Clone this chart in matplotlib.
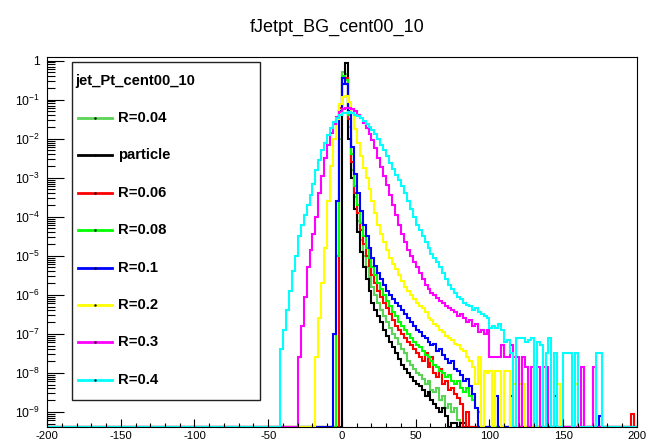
import numpy as np
import matplotlib
matplotlib.use("Agg")
import matplotlib.pyplot as plt
from matplotlib.lines import Line2D
from matplotlib.patches import Rectangle
from matplotlib.ticker import FixedLocator, FixedFormatter, MultipleLocator, LogLocator, NullFormatter

plt.rcParams['font.family'] = ['Liberation Sans', 'DejaVu Sans']
plt.rcParams['mathtext.fontset'] = 'custom'
plt.rcParams['mathtext.rm'] = 'Liberation Sans'
plt.rcParams['mathtext.it'] = 'Liberation Sans:italic'
plt.rcParams['mathtext.bf'] = 'Liberation Sans:bold'
plt.rcParams['axes.unicode_minus'] = False

# histogram binning (bin width 2)
bw = 2
edges = np.arange(-200, 201, bw)
ymin = 10 ** -9.39
ymax = 10 ** 0.095

title = "fJetpt_BG_cent00_10"
legend_title = "jet_Pt_cent00_10"
labels = ["R=0.04", "particle", "R=0.06", "R=0.08", "R=0.1", "R=0.2", "R=0.3", "R=0.4"]
colors = ["#59D454", "#000000", "#FF0000", "#00FF00", "#0000FF", "#FFFF00", "#FF00FF", "#00FFFF"]

# log10 of bin contents, first bin starts at *_start; None = empty bin
r004_start = -2
r004_log = [-2.0, -0.3, -0.35, -1.7, -2.8, -3.5, -4.1, -4.6, -5.0, -5.3, -5.55, -5.8, -6.0, -6.2,
            -6.4, -6.55, -6.7, -6.85, -7.0, -7.1, -7.25, -7.4, -7.5, -7.7, -7.8, -7.9, -8.0, -8.05,
            -8.15, -8.3, -8.2, -8.45, -8.5, -8.4, -8.7, -8.6, -8.9, -8.8, -9.0, -8.9, -9.2]

part_start = 0
part_log = [-0.6, -0.05, -2.0, -3.0, -3.8, -4.4, -4.9, -5.3, -5.6, -5.9, -6.2, -6.4, -6.55, -6.7,
            -6.9, -7.05, -7.2, -7.35, -7.5, -7.65, -7.8, -7.9, -8.0, -8.1, -8.2, -8.3, -8.35, -8.45,
            -8.6, -8.5, -8.7, -8.8, -8.9, -9.0, -8.9, -9.1, None, -9.3, -9.3, None, -9.3, -9.3]

r006_start = -2
r006_log = [-1.2, -0.4, -0.45, -1.5, -2.6, -3.4, -3.9, -4.35, -4.7, -5.0, -5.25, -5.5, -5.7, -5.9,
            -6.05, -6.2, -6.35, -6.5, -6.65, -6.8, -6.9, -7.0, -7.1, -7.2, -7.3, -7.4, -7.5, -7.6,
            -7.7, -7.5, -7.85, -7.6, -8.0, -8.1, -7.9, -8.3, -8.2, -8.45, -8.4, -8.55, -8.65, -8.8,
            None, -9.0]
r006_spike_x = [196]
r006_spike_log = [-9.05]

r008_start = -4
r008_log = [-5.0, -1.3, -0.4, -0.5, -1.4, -2.4, -3.2, -3.7, -4.15, -4.5, -4.8, -5.05, -5.3, -5.5,
            -5.7, -5.85, -6.0, -6.15, -6.3, -6.45, -6.55, -6.7, -6.8, -6.9, -7.0, -7.1, -7.2, -7.3,
            -7.35, -7.45, -7.55, -7.6, -7.7, -7.8, -7.85, -7.95, -8.0, -8.1, -8.05, -8.2, -8.3, -8.2,
            -8.4, -8.5, -8.4, -8.6, -8.7, -8.9, -9.0]

r01_start = -6
r01_log = [-7.0, -3.6, -1.3, -0.45, -0.6, -1.3, -2.2, -2.9, -3.4, -3.85, -4.2, -4.5, -4.8, -5.05,
           -5.25, -5.45, -5.6, -5.75, -5.9, -6.0, -6.1, -6.2, -6.3, -6.4, -6.5, -6.6, -6.7, -6.8,
           -6.9, -6.95, -7.05, -7.1, -7.2, -7.3, -7.25, -7.45, -7.4, -7.55, -7.65, -7.75, -7.7,
           -7.9, -7.95, -8.05, -8.2, -8.15, -8.35, -8.55, -8.9]
r01_spike_x = [104, 114, 144, 174]
r01_spike_log = [-8.6, -8.6, -8.6, -9.1]

r02_start = -18
r02_log = [-7.6, -6.6, -5.7, -4.8, -3.6, -2.7, -2.0, -1.5, -1.12, -0.93, -0.9, -1.05, -1.35, -1.75,
           -2.1, -2.45, -2.75, -3.0, -3.3, -3.6, -3.9, -4.2, -4.45, -4.65, -4.85, -5.05, -5.2,
           -5.35, -5.5, -5.65, -5.8, -5.9, -6.0, -6.1, -6.2, -6.3, -6.35, -6.45, -6.6, -6.65,
           -6.75, -6.8, -6.9, -6.95, -7.05, -7.1, -7.15, -7.25, -7.3, -7.4, -7.45, -7.6, -7.7,
           -7.85, -8.3, -7.6, None, -7.95, -8.0, -7.95, None, -7.95, -7.95, None, -7.95, -7.95,
           None, -8.3, None, -8.3, -8.3]
r02_spike_x = [146, 158]
r02_spike_log = [-8.3, -8.3]

r03_start = -30
r03_log = [-7.6, -6.8, -6.05, -5.3, -4.85, -4.45, -4.0, -3.4, -2.95, -2.5, -2.15, -1.85, -1.62,
           -1.45, -1.32, -1.24, -1.2, -1.22, -1.25, -1.3, -1.38, -1.48, -1.6, -1.72, -1.87, -2.02,
           -2.25, -2.5, -2.72, -2.95, -3.18, -3.45, -3.7, -3.95, -4.2, -4.45, -4.65, -4.85, -5.0,
           -5.15, -5.3, -5.45, -5.6, -5.75, -5.85, -5.95, -6.0, -6.08, -6.15, -6.2, -6.3, -6.35,
           -6.4, -6.45, -6.55, -6.5, -6.6, -6.7, -6.65, -6.8, -6.75, -6.95, -6.9, -7.0, -6.9,
           -7.6, -7.6, -7.6, -7.6, -7.3, -7.6, -7.6, -7.3, -7.6, -7.6, None, -7.6, -7.85, None,
           -7.85, None, -7.85, None, -7.85, -7.85]
r03_spike_x = [162, 170]
r03_spike_log = [-7.85, -7.85]

r04_start = -42
r04_log = [-7.4, -6.9, -6.4, -5.9, -5.4, -5.0, -4.5, -4.2, -3.95, -3.7, -3.45, -3.15, -2.8, -2.55,
           -2.3, -2.1, -1.9, -1.72, -1.58, -1.47, -1.4, -1.35, -1.33, -1.32, -1.34, -1.38, -1.42,
           -1.48, -1.55, -1.62, -1.7, -1.78, -1.88, -2.0, -2.15, -2.3, -2.45, -2.62, -2.78, -2.92,
           -3.07, -3.22, -3.4, -3.6, -3.8, -4.0, -4.2, -4.35, -4.5, -4.65, -4.8, -4.95, -5.05,
           -5.15, -5.3, -5.45, -5.6, -5.75, -5.85, -5.95, -6.05, -6.1, -6.2, -6.25, -6.3, -6.4,
           -6.35, -6.45, -6.5, -6.55, -6.6, -6.85, -6.8, -6.85, -6.75, -6.9, -7.2, -7.15, -7.5,
           None, -7.1, -7.1, -7.1, -7.2, -7.15, -7.1, None, -7.2, -7.3, None, -7.5, -7.1, None,
           -7.5, None, None, -7.5, -7.5, -7.5, None, -7.5]
r04_spike_x = [172, 174]
r04_spike_log = [-7.5, -7.5]


def fill(start, logs, spike_x=(), spike_log=()):
    vals = np.full(len(edges) - 1, ymin)
    i0 = int((start - edges[0]) // bw)
    for k, v in enumerate(logs):
        if v is not None:
            vals[i0 + k] = 10 ** v
    for x, v in zip(spike_x, spike_log):
        vals[int((x - edges[0]) // bw)] = 10 ** v
    return vals


series = [
    fill(r004_start, r004_log),
    fill(part_start, part_log),
    fill(r006_start, r006_log, r006_spike_x, r006_spike_log),
    fill(r008_start, r008_log),
    fill(r01_start, r01_log, r01_spike_x, r01_spike_log),
    fill(r02_start, r02_log, r02_spike_x, r02_spike_log),
    fill(r03_start, r03_log, r03_spike_x, r03_spike_log),
    fill(r04_start, r04_log, r04_spike_x, r04_spike_log),
]

W, H = 654, 445
fig = plt.figure(figsize=(W / 100, H / 100), dpi=100)
ax = fig.add_axes([47 / W, 1 - 427 / H, (637 - 47) / W, (427 - 57) / H])

for vals, c in zip(series, colors):
    ax.stairs(vals, edges, color=c, lw=1.5, baseline=None)

ax.set_yscale('log')
ax.set_xlim(-200, 200)
ax.set_ylim(ymin, ymax)

ax.xaxis.set_major_locator(MultipleLocator(50))
ax.xaxis.set_minor_locator(MultipleLocator(10))
dec = [10.0 ** -k for k in range(10)]
ax.yaxis.set_major_locator(FixedLocator(dec))
ax.yaxis.set_major_formatter(FixedFormatter(["1"] + [r"$10^{-%d}$" % k for k in range(1, 10)]))
ax.yaxis.set_minor_locator(LogLocator(base=10, subs=np.arange(2, 10), numticks=20))
ax.yaxis.set_minor_formatter(NullFormatter())

ax.xaxis.set_tick_params(which='major', direction='in', length=6, width=0.8, labelsize=8.2, pad=3)
ax.xaxis.set_tick_params(which='minor', direction='in', length=3, width=0.8)
ax.yaxis.set_tick_params(which='major', direction='in', length=12.5, width=0.8, labelsize=8.8, pad=5)
ax.yaxis.set_tick_params(which='minor', direction='in', length=6, width=0.8)
for s in ax.spines.values():
    s.set_linewidth(0.8)

fig.text(337 / W, 1 - 27 / H, title, ha='center', va='center', fontsize=13)

# legend box drawn in pixel coordinates
def px(x, y):
    return x / W, 1 - y / H

bx0, by0 = px(72, 400)
bx1, by1 = px(260, 62)
fig.add_artist(Rectangle((bx0, by0), bx1 - bx0, by1 - by0, transform=fig.transFigure,
                         facecolor='white', edgecolor='#222222', lw=1.0, zorder=5))
tx, ty = px(75, 81)
fig.text(tx, ty, legend_title, ha='left', va='center', fontsize=10.7, fontweight='bold', zorder=6)
for k, (lab, c) in enumerate(zip(labels, colors)):
    yy = 118 + 37.4 * k
    (xa, ya), (xb, _) = px(78, yy), px(112, yy)
    fig.add_artist(Line2D([xa, xb], [ya, ya], transform=fig.transFigure, color=c, lw=2, zorder=6))
    fig.add_artist(Line2D([(xa + xb) / 2], [ya], transform=fig.transFigure, marker='s',
                          markersize=0.7, color='black', lw=0, zorder=7))
    lx, ly = px(118, yy)
    fig.text(lx, ly, lab, ha='left', va='center', fontsize=10.7, fontweight='bold', zorder=6)

fig.savefig("out.png", dpi=100)
